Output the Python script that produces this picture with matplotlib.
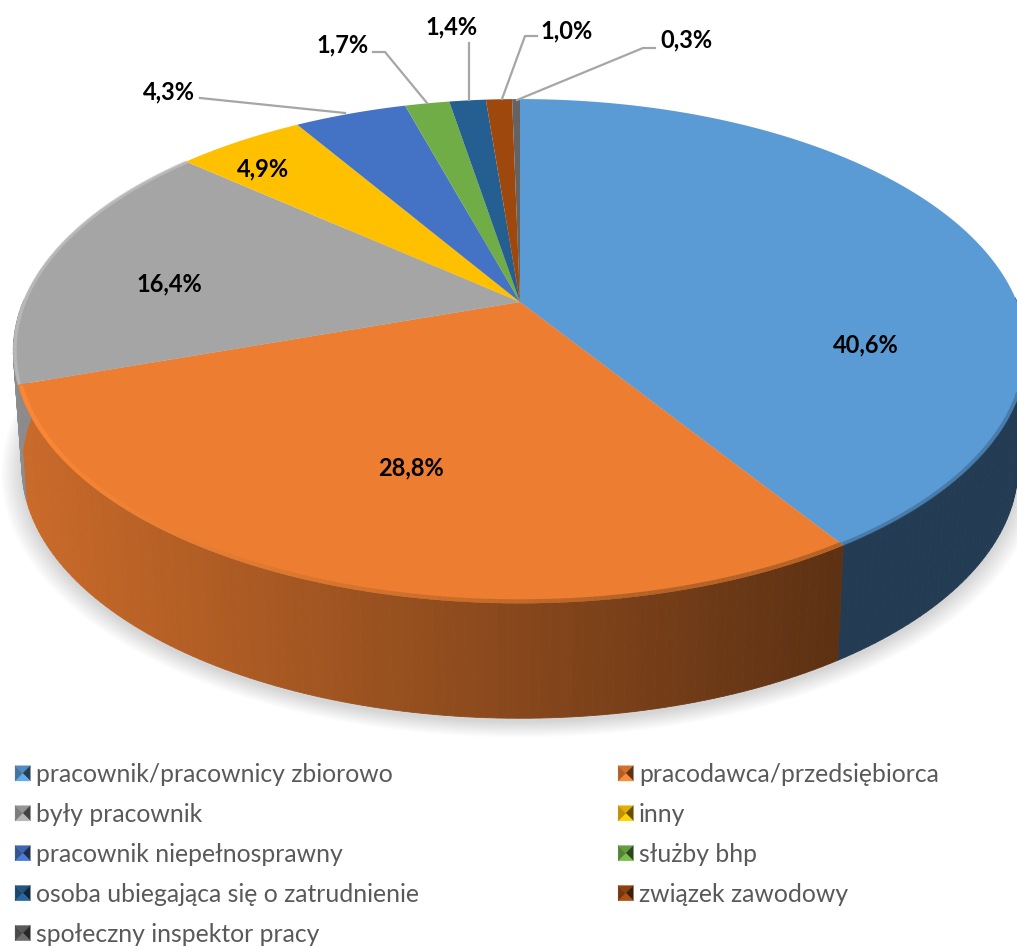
import numpy as np
import matplotlib
matplotlib.use('Agg')
import matplotlib.pyplot as plt
from matplotlib.collections import PolyCollection, LineCollection
from matplotlib.colors import to_rgb
from matplotlib.legend_handler import HandlerBase
from matplotlib.patches import Polygon, Patch

plt.rcParams['font.family'] = ['Lato', 'DejaVu Sans']

categories = ['pracownik/pracownicy zbiorowo', 'pracodawca/przedsiębiorca', 'były pracownik', 'inny',
              'pracownik niepełnosprawny', 'służby bhp', 'osoba ubiegająca się o zatrudnienie',
              'związek zawodowy', 'społeczny inspektor pracy']
values = [40.6, 28.8, 16.4, 4.9, 4.3, 1.7, 1.4, 1.0, 0.3]
colours = ['#5B9BD5', '#ED7D31', '#A5A5A5', '#FFC000', '#4472C4', '#70AD47', '#255E91', '#9E480E', '#636363']

# where the labels sit, in pixels
label_pos = [(866, 345), (411, 468), (169, 284), (263, 169), (169, 92), (343, 45), (452, 27), (567, 31), (686, 40)]
# leader lines for the small slices, None = label is on the slice
leaders = [None, None, None, None,
           [(200, 98), (345, 113)],
           [(373, 52), (385, 52), (427, 103)],
           [(469, 43), (469, 100)],
           [(537, 36), (525, 36), (502, 99)],
           [(655, 48), (643, 48), (517, 100)]]

# perspective of the tilted disc
CX, CY = 520, 302
A, B, K = 497, 242.5, 0.195
DEPTH = 115
BOTTOM_SCALE = 0.983


def project(theta, r=1.0):
    # theta clockwise from 12 o'clock, radians
    x = r * np.sin(theta)
    y = r * np.cos(theta)
    w = 1 + K * y
    return CX + A * x / w, CY - B * y / w


def project_bottom(theta, r=1.0):
    x, y = project(theta, r)
    return CX + (x - CX) * BOTTOM_SCALE, y + DEPTH


def side_shade(x):
    return np.interp(x, [20, 840], [0.85, 0.39])


def rim(start, stop, r, colour_at, lw, alpha):
    # line along the edge of the top, colour follows x
    th = np.linspace(start, stop, 200)
    x, y = project(th, r)
    pts = np.column_stack([x, y])
    segs = np.stack([pts[:-1], pts[1:]], axis=1)
    cols = [(*colour_at((a + b) / 2), alpha) for a, b in zip(x[:-1], x[1:])]
    ax.add_collection(LineCollection(segs, colors=cols, linewidths=lw, zorder=4))


class BevelHandler(HandlerBase):
    # little pyramid shaped legend key like the office 3D pie
    def create_artists(self, legend, orig_handle, xdescent, ydescent, width, height, fontsize, trans):
        base = np.array(to_rgb(orig_handle.get_facecolor()))
        s = 11
        x0 = width - s - xdescent
        y0 = (height - s) / 2 - ydescent
        c = (x0 + s / 2, y0 + s / 2)
        tl, tr, br, bl = (x0, y0 + s), (x0 + s, y0 + s), (x0 + s, y0), (x0, y0)
        faces = [((tl, tr, c), base * 0.9), ((tr, br, c), base * 0.4),
                 ((br, bl, c), np.minimum(base * 1.1, 1)), ((bl, tl, c), base * 0.75)]
        return [Polygon(p, closed=True, facecolor=col, edgecolor=col, lw=0.2, transform=trans) for p, col in faces]


fig = plt.figure(figsize=(10.17, 9.47), dpi=100)
ax = fig.add_axes([0, 0, 1, 1])
ax.set_xlim(0, 1017)
ax.set_ylim(947, 0)
ax.axis('off')

edges = np.cumsum([0] + values) / sum(values) * 2 * np.pi

# soft shadow under the disc
t = np.linspace(0, 2 * np.pi, 361)
for grow in np.linspace(1.04, 1.0, 14):
    sx, sy = project_bottom(t, grow)
    ax.fill(sx, sy + 4, color='black', alpha=0.012, lw=0, zorder=1)

# side wall, only the front part can be seen
for start, stop, col in zip(edges[:-1], edges[1:], colours):
    steps = max(2, int(np.degrees(stop - start)))
    th = np.linspace(start, stop, steps + 1)
    x1, y1 = project(th)
    x2, y2 = project_bottom(th)
    quads = []
    cols = []
    for i in range(steps):
        if np.cos(th[i]) > 0 and np.cos(th[i + 1]) > 0:
            continue
        quads.append([(x1[i], y1[i]), (x1[i + 1], y1[i + 1]), (x2[i + 1], y2[i + 1]), (x2[i], y2[i])])
        cols.append(np.array(to_rgb(col)) * side_shade((x1[i] + x1[i + 1]) / 2))
    if quads:
        ax.add_collection(PolyCollection(quads, facecolors=cols, edgecolors=cols, linewidths=0.6, zorder=2))

# top of the disc
for start, stop, col in zip(edges[:-1], edges[1:], colours):
    th = np.linspace(start, stop, max(2, int(np.degrees(stop - start)) * 2))
    x, y = project(th)
    ax.fill(np.r_[CX, x], np.r_[CY, y], color=col, lw=0, zorder=3)


# bevel along the rim: bright on the left, going dark to the right
def orange_rim(x):
    f = np.clip((x - 20) / 600, 0, 1)
    return tuple(np.array([1.0, 0.55, 0.22]) * (1 - f) + np.array([0.66, 0.36, 0.14]) * f)


rim(edges[1], edges[2] - 0.005, 0.995, orange_rim, 3.0, 0.8)
rim(np.radians(100), edges[1], 0.997, lambda x: (0.22, 0.38, 0.52), 3.0, 0.55)
rim(edges[2], edges[3], 0.997, lambda x: (0.76, 0.76, 0.76), 2.5, 0.7)

# labels and leader lines
for v, pos, leader in zip(values, label_pos, leaders):
    if leader is not None:
        ax.plot(*zip(*leader), color='#A6A6A6', lw=1.6, zorder=5)
    ax.text(pos[0], pos[1], f'{v:.1f}%'.replace('.', ','), ha='center', va='center', fontsize=17,
            fontweight='bold', color='black', zorder=6)

# legend, filled by column in matplotlib so the order is swapped to read row by row
order = list(range(0, 9, 2)) + list(range(1, 9, 2))
handles = [Patch(facecolor=colours[i], label=categories[i]) for i in order]
ax.legend(handles=handles, loc='upper left', bbox_to_anchor=(15 / 1017, 1 - 763 / 947), ncol=2,
          frameon=False, fontsize=17.8, labelcolor='#595959', borderpad=0, borderaxespad=0,
          handlelength=0.62, handletextpad=0.23, labelspacing=0.685, columnspacing=8.05,
          handler_map={Patch: BevelHandler()})

fig.savefig('out.png', dpi=100)
